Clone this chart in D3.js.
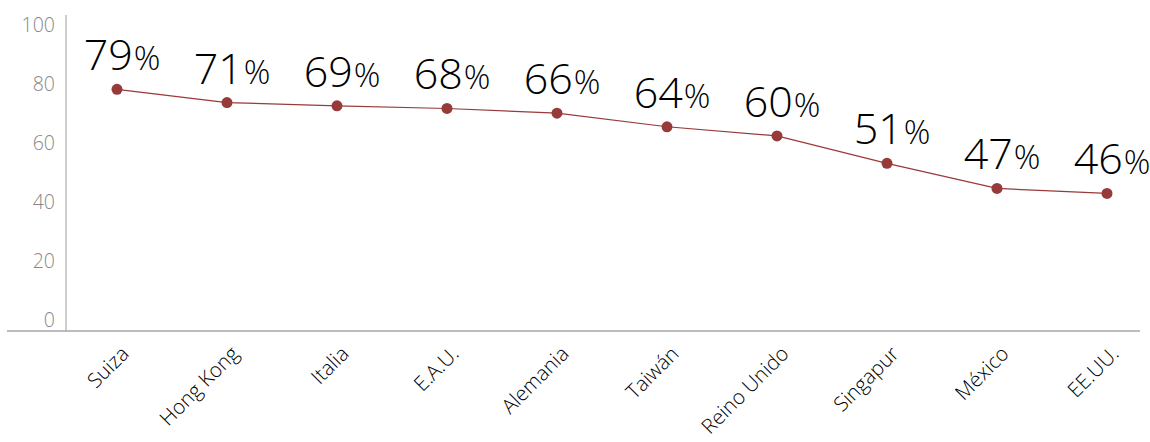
<!DOCTYPE html>
<html>
<head>
<meta charset="utf-8">
<script src="https://cdn.jsdelivr.net/npm/d3@7"></script>
<style>
  body { margin: 0; background: #fff; }
  svg { display: block; font-family: "Open Sans", "Segoe UI", sans-serif; }
</style>
</head>
<body>
<svg id="svg" width="1150" height="442"></svg>
<script>
const countries = ["Suiza", "Hong Kong", "Italia", "E.A.U.", "Alemania", "Taiwán", "Reino Unido", "Singapur", "México", "EE.UU."];
// plotted positions
const values = [78.2, 73.7, 72.6, 71.7, 70.1, 65.5, 62.4, 53.1, 44.6, 42.9];
// printed labels
const labels = [79, 71, 69, 68, 66, 64, 60, 51, 47, 46];
const yTicks = [0, 20, 40, 60, 80, 100];

const svg = d3.select("#svg");
const red = "#973a3a";

const x = d3.scalePoint().domain(countries).range([117, 1107]);
const y = d3.scaleLinear().domain([0, 100]).range([320, 25]);

// axis lines
svg.append("line")
  .attr("x1", 66).attr("x2", 66)
  .attr("y1", 15).attr("y2", 331)
  .attr("stroke", "#b3b3b3").attr("stroke-width", 1.3);
svg.append("line")
  .attr("x1", 7).attr("x2", 1140)
  .attr("y1", 331).attr("y2", 331)
  .attr("stroke", "#a6a6a6").attr("stroke-width", 1.3);

// y tick labels
svg.append("g")
  .selectAll("text")
  .data(yTicks)
  .join("text")
  .attr("x", 55)
  .attr("y", d => y(d))
  .attr("dy", "0.35em")
  .attr("text-anchor", "end")
  .attr("font-size", 19.5)
  .attr("font-weight", 300)
  .attr("fill", "#888")
  .text(d => d);

// x labels
svg.append("g")
  .selectAll("text")
  .data(countries)
  .join("text")
  .attr("text-anchor", "end")
  .attr("font-size", 20.5)
  .attr("font-weight", 300)
  .attr("fill", "#000")
  .attr("transform", d => `translate(${x(d) + 8},${350}) rotate(-45)`)
  .attr("dy", "0.35em")
  .text(d => d);

// line
const line = d3.line()
  .x((d, i) => x(countries[i]))
  .y(d => y(d));

svg.append("path")
  .attr("d", line(values))
  .attr("fill", "none")
  .attr("stroke", red)
  .attr("stroke-width", 1.2);

svg.append("g")
  .selectAll("circle")
  .data(values)
  .join("circle")
  .attr("cx", (d, i) => x(countries[i]))
  .attr("cy", d => y(d))
  .attr("r", 5.5)
  .attr("fill", red);

// value labels
const vl = svg.append("g")
  .selectAll("text")
  .data(values)
  .join("text")
  .attr("x", (d, i) => x(countries[i]) + 5)
  .attr("y", d => y(d) - 19)
  .attr("text-anchor", "middle")
  .attr("fill", "#000")
  .attr("font-weight", 300);

vl.append("tspan")
  .attr("font-size", 43)
  .text((d, i) => labels[i]);
vl.append("tspan")
  .attr("font-size", 33)
  .attr("dx", 1)
  .text("%");
</script>
</body>
</html>
